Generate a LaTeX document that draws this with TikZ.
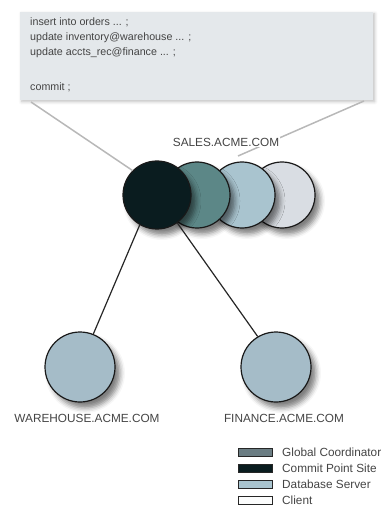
\documentclass[tikz,border=0pt]{standalone}
\usepackage{fontspec}
\setmainfont{Liberation Sans}
\usetikzlibrary{shadows.blur}
\definecolor{boxfill}{HTML}{E4E8EB}
\definecolor{txt}{HTML}{444444}
\definecolor{calloutc}{HTML}{B8B8B8}
\definecolor{cblack}{HTML}{0A1C1F}
\definecolor{cteal}{HTML}{5C8787}
\definecolor{cblue}{HTML}{A9C4CF}
\definecolor{cgray}{HTML}{D9DDE3}
\definecolor{cnode}{HTML}{A5BCC8}
\definecolor{gcoord}{HTML}{6B7D83}
\tikzset{
  sqlbox/.style={rectangle, fill=boxfill, minimum width=353pt, minimum height=88pt, anchor=north west, inner sep=0pt,
    blur shadow={shadow xshift=1.5pt, shadow yshift=-1.5pt, shadow blur radius=3pt, shadow opacity=25}},
  sqltext/.style={anchor=base west, inner sep=0pt, text=txt, font=\fontsize{10.7}{12}\selectfont},
  callout/.style={draw=calloutc, line width=1.5pt},
  site/.style={circle, draw=black!90, line width=1.2pt, inner sep=0pt,
    blur shadow={shadow xshift=5pt, shadow yshift=-6pt, shadow blur radius=5pt, shadow opacity=50}},
  link/.style={draw=black!85, line width=1.2pt},
  lbl/.style={inner sep=1pt, text=txt, font=\fontsize{11.8}{13}\selectfont},
  swatch/.style={rectangle, draw=black!85, line width=1pt, minimum width=34pt, minimum height=8pt, inner sep=0pt},
  legtext/.style={anchor=west, inner sep=0pt, text=txt, font=\fontsize{11.8}{13}\selectfont}
}
\begin{document}
\begin{tikzpicture}[x=1pt,y=-1pt]
\useasboundingbox (0,0) rectangle (382,510);

% SQL box
\node[sqlbox] (sql) at (20,12) {};
\node[sqltext] (l1) at (30,25.5) {insert into orders ... ;};
\node[sqltext] (l2) at (30,40.5) {update inventory@warehouse ... ;};
\node[sqltext] (l3) at (30,55.5) {update accts\_rec@finance ... ;};
\node[sqltext] (l4) at (30,90.5) {commit ;};

% callout ends
\coordinate (c1) at (31,102);
\coordinate (c3) at (364,101);
\coordinate (c4) at (238,156);

% sales circles (back to front)
\node[site, fill=cgray, minimum size=66pt] (cl) at (282,195) {};
\node[site, fill=cblue, minimum size=66pt] (db) at (242,195) {};
\node[site, fill=cteal, minimum size=66pt] (gc) at (197,195) {};

\draw[callout] (c3) -- (c4);
\node[site, fill=cblack, minimum size=68pt] (blk) at (157,195) {};
\draw[callout] (c1) -- (blk.135);

\node[lbl, fill=white] (sales) at (226,142) {SALES.ACME.COM};

% remote sites
\node[site, fill=cnode, minimum size=70pt] (wh) at (80,367) {};
\node[site, fill=cnode, minimum size=70pt] (fin) at (276,367) {};
\draw[link] (blk.240) -- (wh.68);
\draw[link] (blk.306) -- (fin.121);

\node[lbl] (whl) at (87,418) {WAREHOUSE.ACME.COM};
\node[lbl] (finl) at (284,418) {FINANCE.ACME.COM};

% legend
\node[swatch, fill=gcoord] (s1) at (255,452) {};
\node[swatch, fill=cblack] (s2) at (255,468) {};
\node[swatch, fill=cblue] (s3) at (255,484) {};
\node[swatch, fill=white!90!cgray] (s4) at (255,500) {};
\node[legtext] (t1) at (282,452) {Global Coordinator};
\node[legtext] (t2) at (282,468) {Commit Point Site};
\node[legtext] (t3) at (282,484) {Database Server};
\node[legtext] (t4) at (282,500) {Client};
\end{tikzpicture}
\end{document}
